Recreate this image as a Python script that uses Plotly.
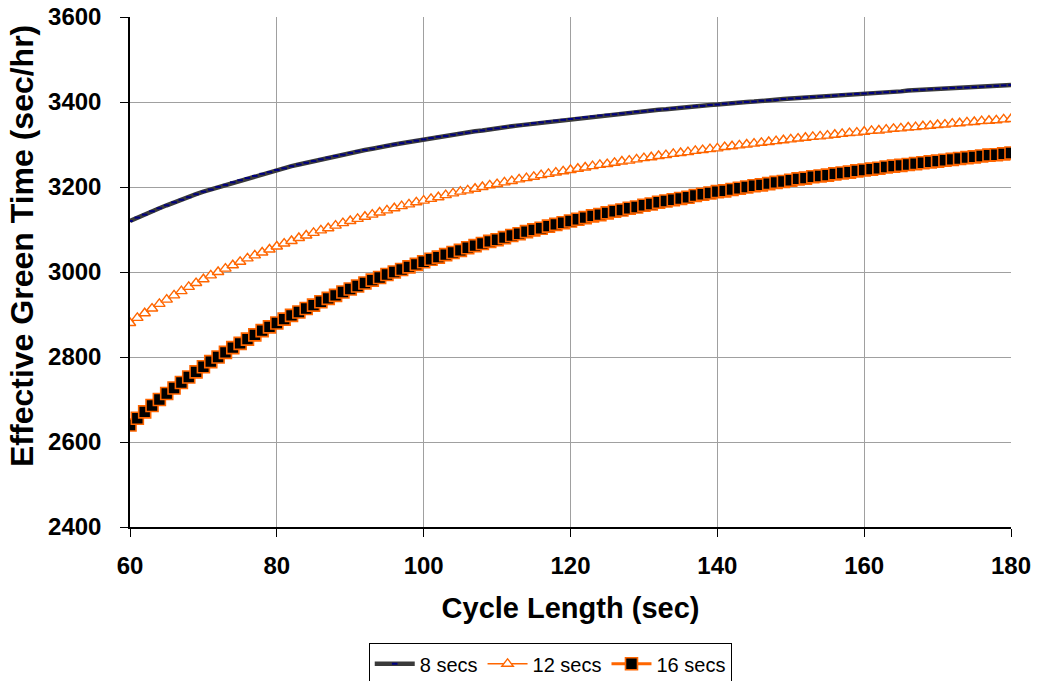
import plotly.graph_objects as go

cycle_length = [
    60, 61, 62, 63, 64, 65, 66, 67, 68, 69,
    70, 71, 72, 73, 74, 75, 76, 77, 78, 79,
    80, 81, 82, 83, 84, 85, 86, 87, 88, 89,
    90, 91, 92, 93, 94, 95, 96, 97, 98, 99,
    100, 101, 102, 103, 104, 105, 106, 107, 108, 109,
    110, 111, 112, 113, 114, 115, 116, 117, 118, 119,
    120, 121, 122, 123, 124, 125, 126, 127, 128, 129,
    130, 131, 132, 133, 134, 135, 136, 137, 138, 139,
    140, 141, 142, 143, 144, 145, 146, 147, 148, 149,
    150, 151, 152, 153, 154, 155, 156, 157, 158, 159,
    160, 161, 162, 163, 164, 165, 166, 167, 168, 169,
    170, 171, 172, 173, 174, 175, 176, 177, 178, 179,
    180,
]

secs_8 = [
    3120, 3128, 3135, 3143, 3150, 3157, 3164, 3170, 3176, 3183,
    3189, 3194, 3200, 3205, 3211, 3216, 3221, 3226, 3231, 3235,
    3240, 3244, 3249, 3253, 3257, 3261, 3265, 3269, 3273, 3276,
    3280, 3284, 3287, 3290, 3294, 3297, 3300, 3303, 3306, 3309,
    3312, 3315, 3318, 3320, 3323, 3326, 3328, 3331, 3333, 3336,
    3338, 3341, 3343, 3345, 3347, 3350, 3352, 3354, 3356, 3358,
    3360, 3362, 3364, 3366, 3368, 3370, 3371, 3373, 3375, 3377,
    3378, 3380, 3382, 3383, 3385, 3387, 3388, 3390, 3391, 3393,
    3394, 3396, 3397, 3399, 3400, 3401, 3403, 3404, 3405, 3407,
    3408, 3409, 3411, 3412, 3413, 3414, 3415, 3417, 3418, 3419,
    3420, 3421, 3422, 3423, 3424, 3425, 3427, 3428, 3429, 3430,
    3431, 3432, 3433, 3434, 3434, 3435, 3436, 3437, 3438, 3439,
    3440,
]

secs_12 = [
    2880, 2892, 2903, 2914, 2925, 2935, 2945, 2955, 2965, 2974,
    2983, 2992, 3000, 3008, 3016, 3024, 3032, 3039, 3046, 3053,
    3060, 3067, 3073, 3080, 3086, 3092, 3098, 3103, 3109, 3115,
    3120, 3125, 3130, 3135, 3140, 3145, 3150, 3155, 3159, 3164,
    3168, 3172, 3176, 3181, 3185, 3189, 3192, 3196, 3200, 3204,
    3207, 3211, 3214, 3218, 3221, 3224, 3228, 3231, 3234, 3237,
    3240, 3243, 3246, 3249, 3252, 3254, 3257, 3260, 3262, 3265,
    3268, 3270, 3273, 3275, 3278, 3280, 3282, 3285, 3287, 3289,
    3291, 3294, 3296, 3298, 3300, 3302, 3304, 3306, 3308, 3310,
    3312, 3314, 3316, 3318, 3319, 3321, 3323, 3325, 3327, 3328,
    3330, 3332, 3333, 3335, 3337, 3338, 3340, 3341, 3343, 3344,
    3346, 3347, 3349, 3350, 3352, 3353, 3355, 3356, 3357, 3359,
    3360,
]

secs_16 = [
    2640, 2656, 2671, 2686, 2700, 2714, 2727, 2740, 2753, 2765,
    2777, 2789, 2800, 2811, 2822, 2832, 2842, 2852, 2862, 2871,
    2880, 2889, 2898, 2906, 2914, 2922, 2930, 2938, 2945, 2953,
    2960, 2967, 2974, 2981, 2987, 2994, 3000, 3006, 3012, 3018,
    3024, 3030, 3035, 3041, 3046, 3051, 3057, 3062, 3067, 3072,
    3076, 3081, 3086, 3090, 3095, 3099, 3103, 3108, 3112, 3116,
    3120, 3124, 3128, 3132, 3135, 3139, 3143, 3146, 3150, 3153,
    3157, 3160, 3164, 3167, 3170, 3173, 3176, 3180, 3183, 3186,
    3189, 3191, 3194, 3197, 3200, 3203, 3205, 3208, 3211, 3213,
    3216, 3219, 3221, 3224, 3226, 3228, 3231, 3233, 3235, 3238,
    3240, 3242, 3244, 3247, 3249, 3251, 3253, 3255, 3257, 3259,
    3261, 3263, 3265, 3267, 3269, 3271, 3273, 3275, 3276, 3278,
    3280,
]

x_ticks = [60, 80, 100, 120, 140, 160, 180]
y_ticks = [2400, 2600, 2800, 3000, 3200, 3400, 3600]
y_title = "Effective Green Time (sec/hr)"
x_title = "Cycle Length (sec)"

ORANGE = "#FF6600"
FONT = "Arial, Liberation Sans, sans-serif"

fig = go.Figure()

fig.add_trace(go.Scatter(
    x=cycle_length, y=secs_8, name="8 secs", mode="lines+markers",
    line=dict(color="#3A3A3A", width=4.5),
    marker=dict(symbol="line-ew", size=4, color="#000080",
                line=dict(color="#000080", width=2)),
))
fig.add_trace(go.Scatter(
    x=cycle_length, y=secs_12, name="12 secs", mode="lines+markers",
    line=dict(color=ORANGE, width=1.5),
    marker=dict(symbol="triangle-up", size=10, color="white",
                line=dict(color=ORANGE, width=1.4)),
))
fig.add_trace(go.Scatter(
    x=cycle_length, y=secs_16, name="16 secs", mode="lines+markers",
    line=dict(color=ORANGE, width=3),
    marker=dict(symbol="square", size=12, color="black",
                line=dict(color=ORANGE, width=1.6)),
))

fig.update_layout(
    width=1037, height=681,
    margin=dict(l=130, r=26, t=17, b=154, autoexpand=False),
    paper_bgcolor="white", plot_bgcolor="white",
    font=dict(family=FONT, color="black"),
    showlegend=True,
    legend=dict(
        orientation="h", x=0.477, xanchor="center", y=-0.228, yanchor="top",
        bordercolor="black", borderwidth=1,
        font=dict(family=FONT, size=20, color="black"),
        itemwidth=40, tracegroupgap=0,
    ),
    xaxis=dict(
        range=[60, 180], tickvals=x_ticks, automargin=False,
        showgrid=True, gridcolor="#A0A0A0", gridwidth=1,
        showline=True, linecolor="black", linewidth=1.5,
        ticks="outside", ticklen=8, tickcolor="black", tickwidth=1,
        ticklabelstandoff=8,
        tickfont=dict(family=FONT, size=24, color="black", weight="bold"),
        title=dict(text=x_title, standoff=20,
                   font=dict(family=FONT, size=29, color="black", weight="bold")),
        zeroline=False,
    ),
    yaxis=dict(
        range=[2400, 3600], tickvals=y_ticks, automargin=False,
        showgrid=True, gridcolor="#A0A0A0", gridwidth=1,
        showline=True, linecolor="black", linewidth=1.5,
        ticks="outside", ticklen=8, tickcolor="black", tickwidth=1,
        ticklabelstandoff=14,
        tickfont=dict(family=FONT, size=24, color="black", weight="bold"),
        zeroline=False,
    ),
    annotations=[dict(
        text=y_title, textangle=-90, showarrow=False,
        xref="paper", yref="paper", x=-0.1226, y=0.551,
        xanchor="center", yanchor="middle",
        font=dict(family=FONT, size=32, color="black", weight="bold"),
    )],
)

fig.write_html(
    "out.html",
    config={"displayModeBar": False},
    post_script="document.body.style.margin='0px';document.body.style.padding='0px';",
)
